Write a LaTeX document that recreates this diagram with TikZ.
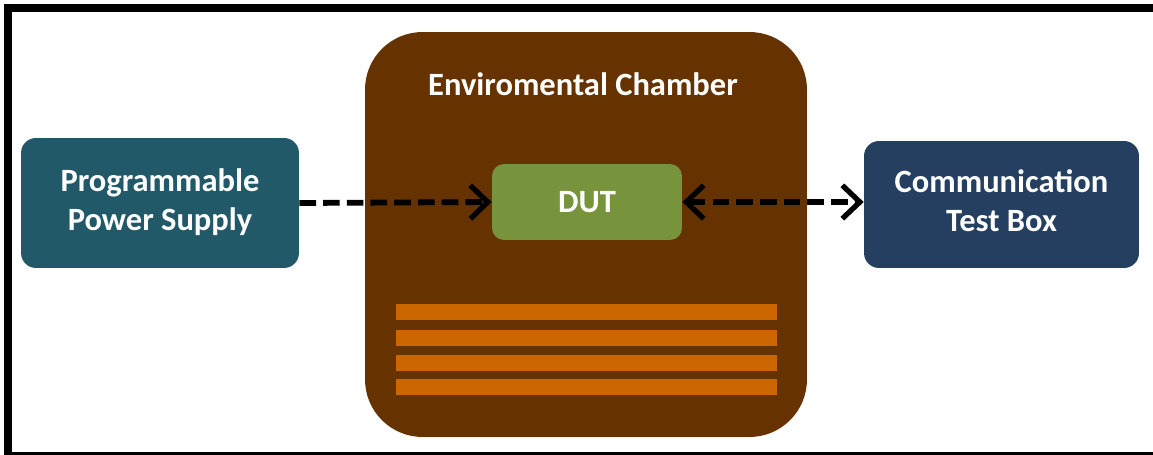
\documentclass[tikz,border=0pt]{standalone}
\usepackage{fontspec}
\setmainfont{Carlito}
\usetikzlibrary{positioning,arrows.meta,calc}

\definecolor{psucol}{HTML}{215968}
\definecolor{commcol}{HTML}{243F60}
\definecolor{chambercol}{HTML}{663300}
\definecolor{dutcol}{HTML}{77933C}
\definecolor{heatercol}{HTML}{CC6600}

% two centred lines, lifted a little
\newcommand{\boxlines}[2]{\raisebox{2.5pt}{\begin{tabular}{@{}c@{}}#1\\#2\end{tabular}}}

\begin{document}
\begin{tikzpicture}[
  x=.02cm,y=-.02cm,
  font=\fontsize{18.5}{22}\selectfont\bfseries,
  unit/.style={rounded corners=.3cm,text=white,inner sep=0pt},
  chamberbox/.style={fill=chambercol,rounded corners=1.15cm,minimum width=8.84cm,minimum height=8.1cm,inner sep=0pt},
  barb/.tip={Straight Barb[length=10pt,width=19pt,line width=3pt]},
  link/.style={black,line width=3.3pt,dash pattern=on 9.5pt off 4pt}
]
\useasboundingbox (0,0) rectangle (1153,455);
% frame
\fill[black] (4,4) rectangle (1153,12);
\fill[black] (4,4) rectangle (12,455);
\fill[black] (12,452) rectangle (1153,455);
% chamber with heater bars
\node[chamberbox] (chamber) at (586,234.5) {};
\node[text=white] (chambertitle) at (583,84) {Enviromental Chamber};
\foreach \yy in {304,330,355,379}
  \fill[heatercol] (396,\yy) rectangle (777,\yy+16);
\node[unit,fill=dutcol,rounded corners=.24cm,minimum width=3.8cm,minimum height=1.52cm] (dut) at (587,202) {\raisebox{-1pt}{DUT}};
% outside units
\node[unit,fill=psucol,minimum width=5.56cm,minimum height=2.6cm] (psu) at (160,203) {\boxlines{Programmable}{Power Supply}};
\node[unit,fill=commcol,minimum width=5.5cm,minimum height=2.54cm] (comm) at (1001.5,204.5) {\boxlines{Communication}{Test Box}};
% connections
\draw[link,arrows={-barb}] (psu.east) -- (dut.west);
\draw[link,arrows={barb-barb}] (dut.east) -- (dut.east -| comm.west);
\end{tikzpicture}
\end{document}
